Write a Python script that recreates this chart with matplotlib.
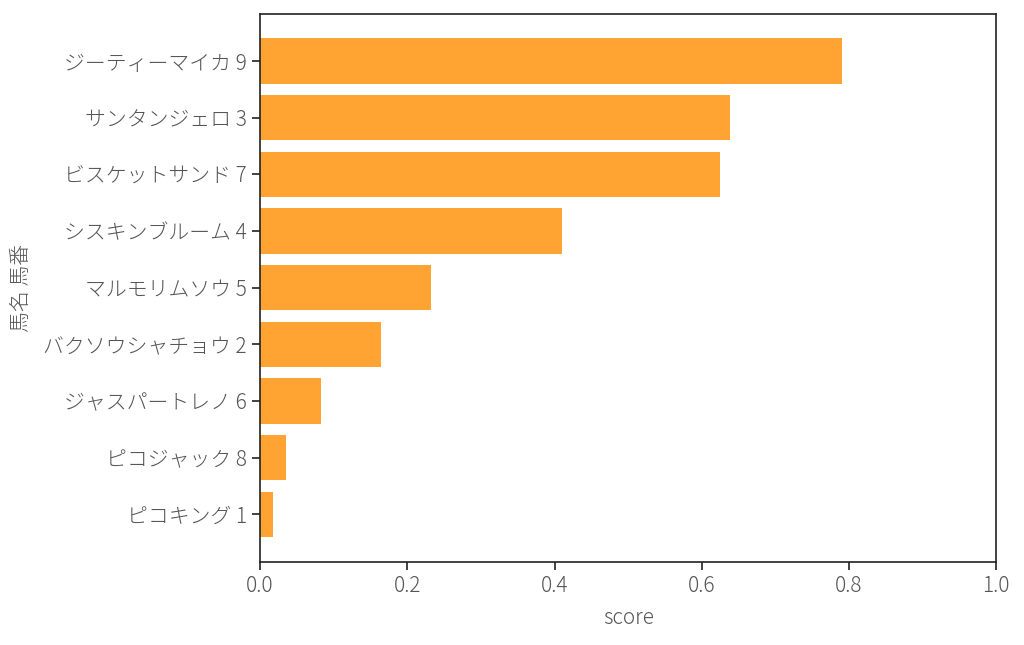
import matplotlib
matplotlib.use("Agg")
import matplotlib.pyplot as plt

names = ["ピコキング", "ピコジャック", "ジャスパートレノ", "バクソウシャチョウ", "マルモリムソウ",
         "シスキンブルーム", "ビスケットサンド", "サンタンジェロ", "ジーティーマイカ"]
numbers = [1, 8, 6, 2, 5, 4, 7, 3, 9]
scores = [0.018, 0.035, 0.083, 0.164, 0.232, 0.410, 0.625, 0.638, 0.791]
labels = [f"{n} {k}" for n, k in zip(names, numbers)]

plt.rcParams['font.family'] = ['Noto Sans CJK JP', 'DejaVu Sans']
plt.rcParams['font.weight'] = 300
txt = '#555555'
fs = 15
fw = 300

fig = plt.figure(figsize=(10.24, 6.45), dpi=100)
ax = fig.add_axes([0.254, 0.129, 0.719, 0.85])
ax.barh(range(len(scores)), scores, height=0.8, color='#FFA333')
ax.set_yticks(range(len(scores)))
ax.set_yticklabels(labels, fontsize=fs, color=txt, fontweight=fw)
ax.set_xlim(0, 1.0)
ax.set_xticks([0, 0.2, 0.4, 0.6, 0.8, 1.0])
ax.set_xticklabels(["0.0", "0.2", "0.4", "0.6", "0.8", "1.0"], fontsize=fs, color=txt, fontweight=fw)
ax.set_xlabel("score", fontsize=fs, color=txt, fontweight=fw, labelpad=7)
ax.set_ylabel("馬名 馬番", fontsize=fs, color=txt, fontweight=fw, labelpad=8)
for s in ax.spines.values():
    s.set_linewidth(1.2)
    s.set_color('#222222')
ax.tick_params(width=1.2, length=6, color='#222222')
fig.savefig("out.png", dpi=100)
